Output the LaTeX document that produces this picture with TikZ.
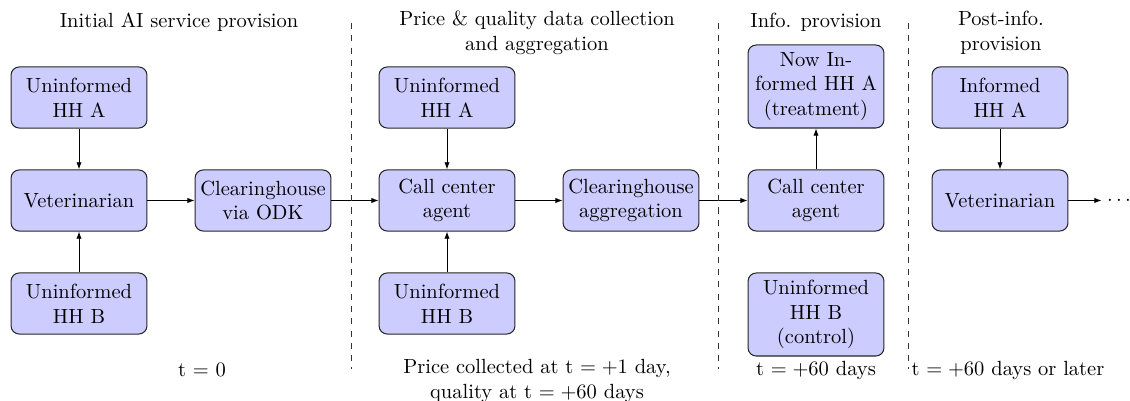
\documentclass[tikz,border=0pt]{standalone}
\usetikzlibrary{arrows.meta}
\begin{document}
\begin{tikzpicture}[x=0.4878pt,y=-0.4878pt,
  box/.style={draw=black!85,fill=blue!20,rounded corners=4pt,align=center,
    minimum width=66.3pt,minimum height=29.8pt,inner sep=2pt,line width=0.5pt},
  tallbox/.style={box,minimum height=40.5pt},
  arr/.style={-{Latex[length=3.5pt,width=2.6pt]},line width=0.45pt},
  divider/.style={dashed,line width=0.45pt,black!80},
  lbl/.style={align=center,inner sep=0pt}]
\useasboundingbox (0,0) rectangle (1130,401);
% column 1
\node[box] (a1) at (79,97.5) {Uninformed\\HH A};
\node[box] (v1) at (79,200.5) {Veterinarian};
\node[box] (b1) at (79,303.5) {Uninformed\\HH B};
\node[box] (c1) at (263,200.5) {Clearinghouse\\via ODK};
% column 2
\node[box] (a2) at (447,97.5) {Uninformed\\HH A};
\node[box] (cc2) at (447,200.5) {Call center\\agent};
\node[box] (b2) at (447,303.5) {Uninformed\\HH B};
\node[box] (ag2) at (631,200.5) {Clearinghouse\\aggregation};
% column 3
\node[tallbox] (a3) at (816,86.5) {Now In-\\formed HH A\\(treatment)};
\node[box] (cc3) at (816,200.5) {Call center\\agent};
\node[tallbox] (b3) at (816,314.5) {Uninformed\\HH B\\(control)};
% column 4
\node[box] (a4) at (1000,97.5) {Informed\\HH A};
\node[box] (v4) at (1000,200.5) {Veterinarian};
\node[inner sep=0.5pt] (dots) at (1119,200.5) {$\cdots$};
% connectors
\draw[arr] (a1) -- (v1);
\draw[arr] (b1) -- (v1);
\draw[arr] (v1) -- (c1);
\draw[arr] (c1) -- (cc2);
\draw[arr] (a2) -- (cc2);
\draw[arr] (b2) -- (cc2);
\draw[arr] (cc2) -- (ag2);
\draw[arr] (ag2) -- (cc3);
\draw[arr] (cc3) -- (a3);
\draw[arr] (a4) -- (v4);
\draw[arr,shorten >=2pt] (v4) -- (dots);
% dividers
\coordinate (d1t) at (351.5,23); \coordinate (d1b) at (351.5,369);
\coordinate (d2t) at (718.5,23); \coordinate (d2b) at (718.5,369);
\coordinate (d3t) at (908.5,23); \coordinate (d3b) at (908.5,369);
\draw[divider] (d1t) -- (d1b);
\draw[divider] (d2t) -- (d2b);
\draw[divider] (d3t) -- (d3b);
% headings
\node[lbl] (h1) at (179,22) {Initial AI service provision};
\node[lbl] (h2) at (537,33) {Price \& quality data collection\\and aggregation};
\node[lbl] (h3) at (816,22) {Info. provision};
\node[lbl] (h4) at (1001,33) {Post-info.\\provision};
% time labels
\node[lbl] (t1) at (202,370) {t $=$ 0};
\node[lbl] (t2) at (537,381) {Price collected at t $=+1$ day,\\quality at t $=+60$ days};
\node[lbl] (t3) at (816,370) {t $=+60$ days};
\node[lbl] (t4) at (1008,370) {t $=+60$ days or later};
\end{tikzpicture}
\end{document}
